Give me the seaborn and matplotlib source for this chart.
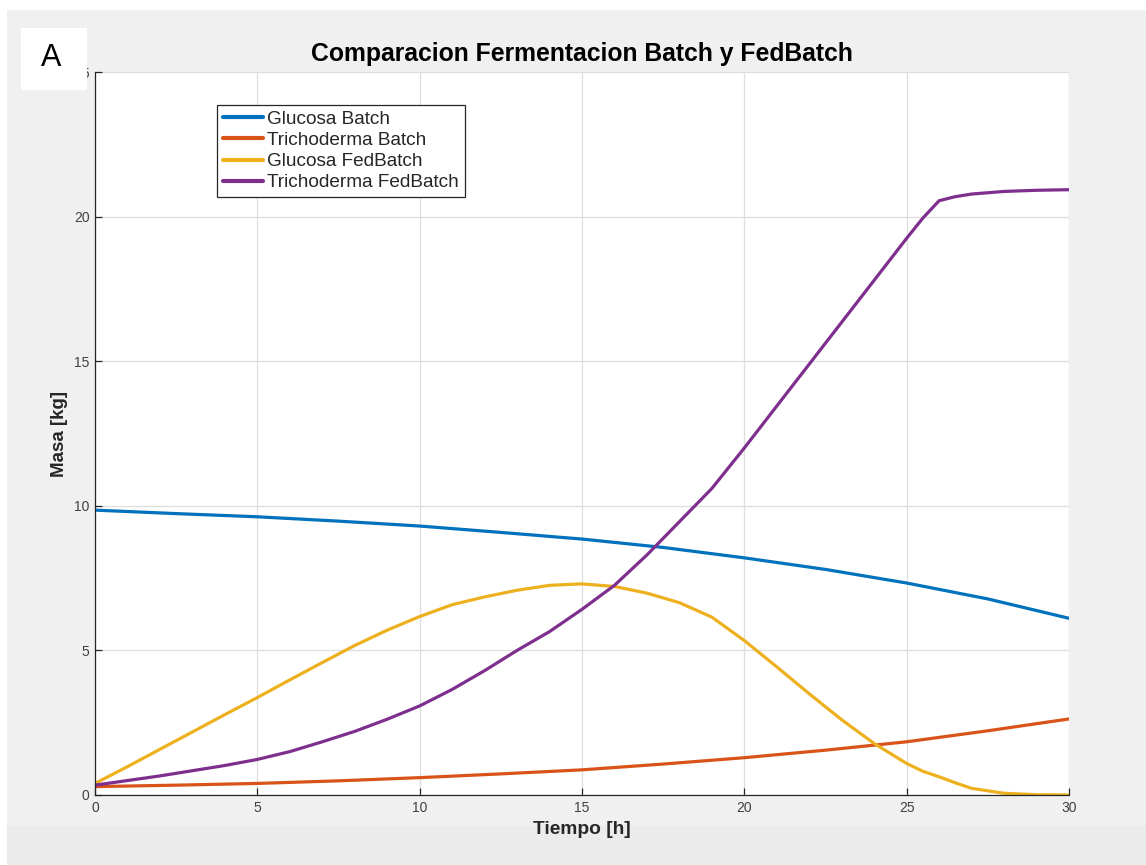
import matplotlib
matplotlib.use("Agg")
import matplotlib.pyplot as plt
from matplotlib.patches import Rectangle
import numpy as np
import pandas as pd
import seaborn as sns

# Batch run: sampled every 2.5 h
t_batch = [0, 2.5, 5, 7.5, 10, 12.5, 15, 17.5, 20, 22.5, 25, 27.5, 30]
glucosa_batch = [9.85, 9.73, 9.62, 9.47, 9.30, 9.08, 8.85, 8.56, 8.20, 7.80, 7.33, 6.78, 6.11]
tricho_batch = [0.29, 0.34, 0.40, 0.49, 0.60, 0.73, 0.87, 1.07, 1.29, 1.55, 1.84, 2.22, 2.63]

# FedBatch run: hourly, denser around the end of feeding
t_fed = [0, 1, 2, 3, 4, 5, 6, 7, 8, 9, 10, 11, 12, 13, 14, 15, 16, 17, 18, 19,
         20, 21, 22, 23, 24, 25, 25.5, 26, 26.5, 27, 28, 29, 30]
glucosa_fed = [0.40, 0.98, 1.58, 2.18, 2.78, 3.37, 3.98, 4.58, 5.17, 5.70, 6.17,
               6.58, 6.85, 7.08, 7.25, 7.30, 7.21, 6.98, 6.65, 6.15, 5.34, 4.43,
               3.50, 2.60, 1.78, 1.09, 0.82, 0.63, 0.42, 0.23, 0.06, 0.01, 0.00]
tricho_fed = [0.34, 0.50, 0.66, 0.84, 1.02, 1.23, 1.50, 1.84, 2.20, 2.62, 3.08,
              3.65, 4.30, 5.00, 5.65, 6.42, 7.25, 8.30, 9.45, 10.60, 12.00, 13.45,
              14.90, 16.35, 17.80, 19.25, 19.95, 20.55, 20.69, 20.78, 20.87, 20.91, 20.93]

series_names = ["Glucosa Batch", "Trichoderma Batch", "Glucosa FedBatch", "Trichoderma FedBatch"]
colors = ["#0072BD", "#D95319", "#EDB120", "#7E2F8E"]

x_ticks = [0, 5, 10, 15, 20, 25, 30]
y_ticks = [0, 5, 10, 15, 20, 25]

df = pd.concat([
    pd.DataFrame({"t": t_batch, "masa": glucosa_batch, "serie": series_names[0]}),
    pd.DataFrame({"t": t_batch, "masa": tricho_batch, "serie": series_names[1]}),
    pd.DataFrame({"t": t_fed, "masa": glucosa_fed, "serie": series_names[2]}),
    pd.DataFrame({"t": t_fed, "masa": tricho_fed, "serie": series_names[3]}),
], ignore_index=True)

sns.set_theme(style="whitegrid")
plt.rcParams["font.family"] = ["Liberation Sans", "DejaVu Sans"]

W, H = 1146, 865
fig = plt.figure(figsize=(W / 100, H / 100), dpi=100, facecolor="white")

# window background bands
fig.patches.append(Rectangle((7 / W, 1 - 825 / H), 1 - 7 / W, (825 - 10) / H,
                             transform=fig.transFigure, facecolor="#f0f0f0",
                             edgecolor="none", zorder=-10))
fig.patches.append(Rectangle((7 / W, 0), 1 - 7 / W, (865 - 825) / H,
                             transform=fig.transFigure, facecolor="#ebebeb",
                             edgecolor="none", zorder=-10))

left, right, top, bottom = 95, 1069, 72, 795
ax = fig.add_axes([left / W, 1 - bottom / H, (right - left) / W, (bottom - top) / H])
ax.set_facecolor("white")

sns.lineplot(data=df, x="t", y="masa", hue="serie", hue_order=series_names,
             palette=colors, linewidth=2.3, ax=ax, sort=False, estimator=None)

ax.set_xlim(0, 30)
ax.set_ylim(0, 25)
ax.set_xticks(x_ticks)
ax.set_yticks(y_ticks)
ax.grid(True, color="#dedede", linewidth=0.9)
ax.set_axisbelow(True)

for side in ["top", "right"]:
    ax.spines[side].set_visible(False)
for side in ["left", "bottom"]:
    ax.spines[side].set_visible(True)
    ax.spines[side].set_color("#262626")
    ax.spines[side].set_linewidth(0.9)

ax.tick_params(axis="both", direction="in", length=5, width=0.9, color="#262626",
               labelsize=10, labelcolor="#404040", left=True, bottom=True, pad=4)

ax.set_title("Comparacion Fermentacion Batch y FedBatch", fontsize=17.8, fontweight="bold",
             color="black", pad=8)
ax.set_xlabel("Tiempo [h]", fontsize=13.8, fontweight="bold", color="#262626", labelpad=5)
ax.set_ylabel("Masa [kg]", fontsize=13.5, fontweight="bold", color="#262626", labelpad=4)

leg = ax.legend(loc="upper left", bbox_to_anchor=((217 - left) / (right - left),
                                                  (bottom - 105) / (bottom - top)),
                borderaxespad=0, fontsize=13.7, frameon=True, fancybox=False,
                handlelength=2.1, handletextpad=0.25, labelspacing=0.2,
                borderpad=0.3, title=None)
leg.get_frame().set_edgecolor("#262626")
leg.get_frame().set_linewidth(0.9)
leg.get_frame().set_facecolor("white")
leg.get_frame().set_alpha(1)
for line in leg.get_lines():
    line.set_linewidth(3.0)

# panel letter
fig.patches.append(Rectangle((21 / W, 1 - 90 / H), 66 / W, 62 / H,
                             transform=fig.transFigure, facecolor="white",
                             edgecolor="none", zorder=10))
fig.text(51 / W, 1 - 58 / H, "A", fontsize=22, ha="center", va="center",
         color="black", zorder=11)

fig.savefig("out.png", dpi=100, facecolor=fig.get_facecolor())
